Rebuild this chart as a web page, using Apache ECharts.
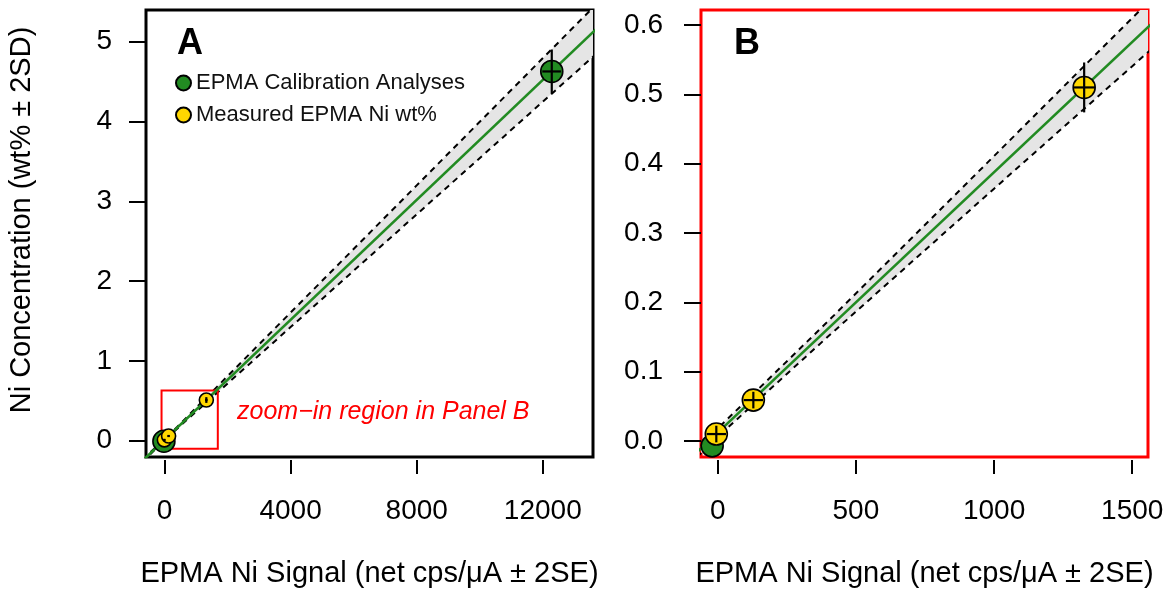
<!DOCTYPE html>
<html>
<head>
<meta charset="utf-8">
<script src="https://cdn.jsdelivr.net/npm/echarts@6/dist/echarts.min.js"></script>
<style>
html,body{margin:0;padding:0;background:#fff;}
#chart{width:1170px;height:594px;}
</style>
</head>
<body>
<div id="chart"></div>
<script>
// ---- Data ----
// Calibration analyses (green)
const calX = [-20, 12285];
const calY = [-0.007, 4.627];
const calXErr = [0, 300];
const calYErr = [0, 0.275];
// Measured EPMA Ni wt% (yellow)
const measX = [-5, 129, 1326];
const measY = [0.010, 0.059, 0.510];
const measXErr = [35, 35, 40];
const measYErr = [0.012, 0.012, 0.036];
// Calibration line (end points) and its uncertainty envelope
const fitX = [-700, 14000];
const fitY = [-0.251, 5.272];
const bandX  = [-700, 0, 400, 1000, 1600, 4000, 8000, 14000];
const bandLo = [-0.268, 0.006, 0.151, 0.364, 0.576, 1.424, 2.836, 4.954];
const bandHi = [-0.234, 0.018, 0.173, 0.411, 0.650, 1.606, 3.199, 5.590];
// Zoom-in region box drawn in panel A  [xmin, xmax, ymin, ymax]
const zoomBox = [-95, 1690, -0.10, 0.63];
// Ticks
const xTicksA = [0, 4000, 8000, 12000];
const yTicksA = [0, 1, 2, 3, 4, 5];
const xTicksB = [0, 500, 1000, 1500];
const yTicksB = [0, 0.1, 0.2, 0.3, 0.4, 0.5, 0.6];
// Texts
const xTitle = 'EPMA Ni Signal (net cps/\u03bcA \u00b1 2SE)';
const yTitle = 'Ni Concentration (wt% \u00b1 2SD)';
const calName = 'EPMA Calibration Analyses';
const measName = 'Measured EPMA Ni wt%';

const FONT = 'Liberation Sans, Arial, sans-serif';
const GREEN = '#228B22';
const YELLOW = '#FFD700';

function xAxisCfg(gi, min, max, ticks) {
  return {
    type: 'value', gridIndex: gi, min: min, max: max, offset: 3,
    axisLine: {show: false, onZero: false},
    axisTick: {show: true, inside: false, length: 14, lineStyle: {color: '#000', width: 2}, customValues: ticks},
    axisLabel: {customValues: ticks, inside: false, margin: 37, fontSize: 28, color: '#000', fontFamily: FONT,
      formatter: v => String(v)},
    splitLine: {show: false},
    name: xTitle, nameLocation: 'middle', nameGap: 99,
    nameTextStyle: {fontSize: 29, color: '#000', fontFamily: FONT}
  };
}
function yAxisCfg(gi, min, max, ticks, margin, fmt) {
  return {
    type: 'value', gridIndex: gi, min: min, max: max,
    axisLine: {show: false, onZero: false},
    axisTick: {show: true, inside: false, length: 17, lineStyle: {color: '#000', width: 2}, customValues: ticks},
    axisLabel: {customValues: ticks, inside: false, margin: margin, fontSize: 28, color: '#000', fontFamily: FONT, formatter: fmt},
    splitLine: {show: false}
  };
}

function bandSeries(ai) {
  return {
    type: 'custom', xAxisIndex: ai, yAxisIndex: ai, z: 1, silent: true, clip: true,
    data: [[bandX[0], bandLo[0]]],
    renderItem: function (params, api) {
      const pts = [];
      for (let i = 0; i < bandX.length; i++) pts.push(api.coord([bandX[i], bandLo[i]]));
      for (let i = bandX.length - 1; i >= 0; i--) pts.push(api.coord([bandX[i], bandHi[i]]));
      const cs = params.coordSys;
      return {
        type: 'polygon', shape: {points: pts},
        style: {fill: '#e5e5e5', stroke: null},
        clipPath: {type: 'rect', shape: {x: cs.x, y: cs.y, width: cs.width, height: cs.height}}
      };
    }
  };
}
function dashedSeries(ai, ys) {
  return {
    type: 'line', xAxisIndex: ai, yAxisIndex: ai, z: 2, silent: true, clip: true,
    showSymbol: false, symbol: 'none',
    data: bandX.map((x, i) => [x, ys[i]]),
    lineStyle: {color: '#000', width: 2, type: [6, 5]}
  };
}
function fitSeries(ai) {
  return {
    type: 'line', xAxisIndex: ai, yAxisIndex: ai, z: 3, silent: true, clip: true,
    showSymbol: false, symbol: 'none',
    data: fitX.map((x, i) => [x, fitY[i]]),
    lineStyle: {color: GREEN, width: 2.6}
  };
}
function scatterSeries(ai, name, xs, ys, color, size, z) {
  return {
    type: 'scatter', name: name, xAxisIndex: ai, yAxisIndex: ai, z: z, clip: true,
    symbol: 'circle', symbolSize: size,
    data: xs.map((x, i) => [x, ys[i]]),
    itemStyle: {color: color, borderColor: '#000', borderWidth: 1.6, opacity: 1}
  };
}
function errSeries(ai, xs, ys, xe, ye, z) {
  return {
    type: 'custom', xAxisIndex: ai, yAxisIndex: ai, z: z, silent: true, clip: true,
    data: xs.map((x, i) => [x, ys[i], xe[i], ye[i]]),
    renderItem: function (params, api) {
      const x = api.value(0), y = api.value(1), dx = api.value(2), dy = api.value(3);
      const v1 = api.coord([x, y - dy]), v2 = api.coord([x, y + dy]);
      const h1 = api.coord([x - dx, y]), h2 = api.coord([x + dx, y]);
      const st = {stroke: '#000', lineWidth: 2.2};
      const cs = params.coordSys;
      return {
        type: 'group',
        clipPath: {type: 'rect', shape: {x: cs.x, y: cs.y, width: cs.width, height: cs.height}},
        children: [
          {type: 'line', shape: {x1: v1[0], y1: v1[1], x2: v2[0], y2: v2[1]}, style: st},
          {type: 'line', shape: {x1: h1[0], y1: h1[1], x2: h2[0], y2: h2[1]}, style: st}
        ]
      };
    }
  };
}
function boxSeries() {
  return {
    type: 'custom', xAxisIndex: 0, yAxisIndex: 0, z: 3, silent: true,
    data: [[zoomBox[0], zoomBox[2]]],
    renderItem: function (params, api) {
      const p1 = api.coord([zoomBox[0], zoomBox[3]]);
      const p2 = api.coord([zoomBox[1], zoomBox[2]]);
      return {
        type: 'rect',
        shape: {x: p1[0], y: p1[1], width: p2[0] - p1[0], height: p2[1] - p1[1]},
        style: {fill: null, stroke: '#ff0000', lineWidth: 2}
      };
    }
  };
}

const chart = echarts.init(document.getElementById('chart'), null, {renderer: 'canvas'});
const option = {
  animation: false,
  backgroundColor: '#fff',
  grid: [
    {left: 146, top: 10, width: 447, height: 447, show: true, borderColor: '#000', borderWidth: 3, backgroundColor: 'transparent'},
    {left: 701, top: 10, width: 447, height: 447, show: true, borderColor: '#ff0000', borderWidth: 3, backgroundColor: 'transparent'}
  ],
  xAxis: [
    xAxisCfg(0, -588, 13593, xTicksA),
    xAxisCfg(1, -60.4, 1557, xTicksB)
  ],
  yAxis: [
    yAxisCfg(0, -0.204, 5.397, yTicksA, 34, v => String(v)),
    yAxisCfg(1, -0.0231, 0.6217, yTicksB, 38, v => v.toFixed(1))
  ],
  legend: {
    orient: 'vertical', left: 170, top: 67, itemGap: 10,
    itemWidth: 15, itemHeight: 15, icon: 'circle',
    data: [calName, measName],
    selectedMode: false,
    textStyle: {fontSize: 22, color: '#111', fontFamily: FONT}
  },
  graphic: [
    {type: 'text', left: 177, top: 26, style: {text: 'A', font: 'bold 36px ' + FONT, fill: '#000'}},
    {type: 'text', left: 734, top: 26, style: {text: 'B', font: 'bold 36px ' + FONT, fill: '#000'}},
    {type: 'text', left: 237, top: 400, style: {text: 'zoom\u2212in region in Panel B', font: 'italic 25px ' + FONT, fill: '#ff0000'}},
    {type: 'text', x: 22, y: 220, rotation: Math.PI / 2,
      style: {text: yTitle, font: '29px ' + FONT, fill: '#000', align: 'center', verticalAlign: 'middle'}}
  ],
  series: [
    bandSeries(0), dashedSeries(0, bandLo), dashedSeries(0, bandHi), fitSeries(0),
    boxSeries(),
    scatterSeries(0, calName, calX, calY, GREEN, 22, 4),
    scatterSeries(0, measName, measX, measY, YELLOW, 14, 5),
    errSeries(0, calX, calY, calXErr, calYErr, 6),
    errSeries(0, measX, measY, measXErr, measYErr, 6),
    bandSeries(1), dashedSeries(1, bandLo), dashedSeries(1, bandHi), fitSeries(1),
    scatterSeries(1, calName, calX, calY, GREEN, 22, 4),
    scatterSeries(1, measName, measX, measY, YELLOW, 22, 5),
    errSeries(1, calX, calY, calXErr, calYErr, 6),
    errSeries(1, measX, measY, measXErr, measYErr, 6)
  ]
};
chart.setOption(option);
</script>
</body>
</html>
